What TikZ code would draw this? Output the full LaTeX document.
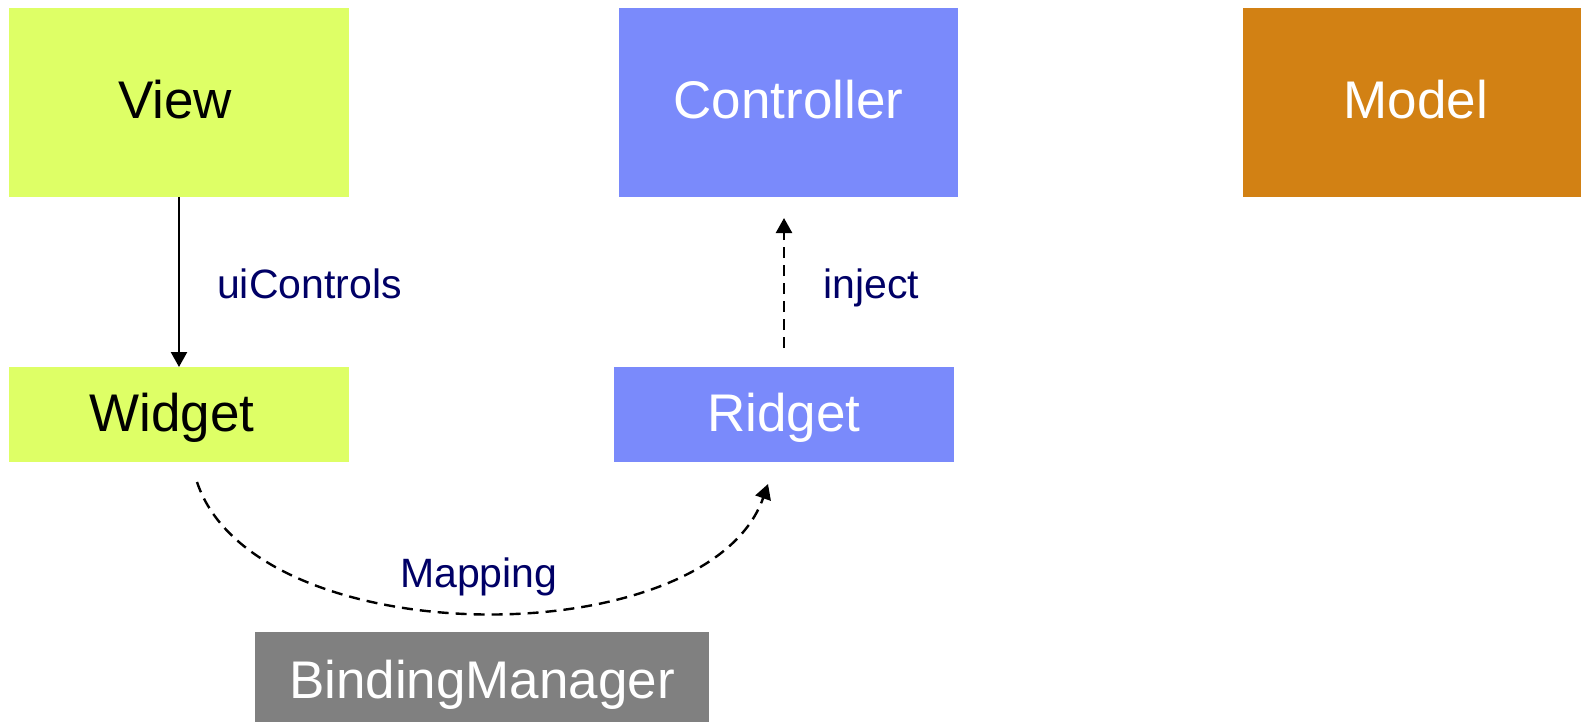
\documentclass[tikz,border=0pt]{standalone}
\usepackage{fontspec}
\setmainfont{Liberation Sans}
\usetikzlibrary{arrows.meta}
\definecolor{viewgreen}{HTML}{DEFF66}
\definecolor{ctrlblue}{HTML}{7A8AFB}
\definecolor{modelorange}{HTML}{D28114}
\definecolor{bmgray}{HTML}{808080}
\definecolor{labelnavy}{HTML}{000066}
\tikzset{
  box/.style={inner sep=0pt, outer sep=0pt, draw=none, text depth=0pt, text height=33pt, font=\fontsize{53}{60}\selectfont},
  greenbox/.style={box, fill=viewgreen, text=black},
  bluebox/.style={box, fill=ctrlblue, text=white},
  edgelabel/.style={anchor=base west, inner sep=0pt, text=labelnavy, font=\fontsize{41}{48}\selectfont},
  conn/.style={line width=2.4pt, -{Triangle[length=15pt,width=16pt]}},
  dashconn/.style={conn, dash pattern=on 11pt off 7pt}
}
\begin{document}
\begin{tikzpicture}[x=1pt,y=-1pt]
\useasboundingbox (0,0) rectangle (1581,722);
\node[greenbox, minimum width=340pt, minimum height=189pt] (view) at (179,102.5) {View\hspace*{8pt}};
\node[bluebox, minimum width=339pt, minimum height=189pt] (controller) at (788.5,102.5) {Controller};
\node[box, fill=modelorange, text=white, minimum width=338pt, minimum height=189pt] (model) at (1412,102.5) {\hspace*{8pt}Model};
\node[greenbox, text height=34pt, minimum width=340pt, minimum height=95pt] (widget) at (179,414.5) {Widget\hspace*{14pt}};
\node[bluebox, text height=34pt, minimum width=340pt, minimum height=95pt] (ridget) at (784,414.5) {Ridget};
\node[box, text height=42pt, fill=bmgray, text=white, minimum width=454pt, minimum height=90pt] (bm) at (482,677) {BindingManager};

\draw[conn] (view.south) -- (widget.north);
\node[edgelabel] (uilabel) at (217,298) {uiControls};

\draw[dashconn] ([yshift=19pt]ridget.north) -- ([yshift=-21pt]ridget.north |- controller.south);
\node[edgelabel] (injlabel) at (823,298) {inject};

\coordinate (mapS) at (197,482);
\coordinate (mapE) at (768,484);
\draw[dashconn] (mapS) .. controls (255,656) and (708,656) .. (mapE);
\node[edgelabel] (maplabel) at (400,587) {Mapping};
\end{tikzpicture}
\end{document}
